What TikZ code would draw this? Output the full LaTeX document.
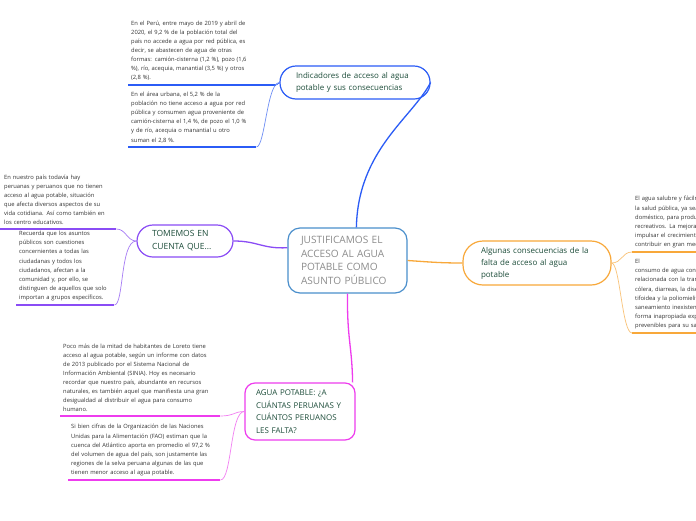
\documentclass[tikz,border=0pt]{standalone}
\usepackage{fontspec}
\setmainfont{Open Sans}
\definecolor{azul}{HTML}{2B5CF6}
\definecolor{azulclaro}{HTML}{6F8FF5}
\definecolor{morado}{HTML}{8A4CF5}
\definecolor{moradoclaro}{HTML}{A77CF5}
\definecolor{magenta}{HTML}{EE3CEE}
\definecolor{magentaclaro}{HTML}{F27FF2}
\definecolor{naranja}{HTML}{F8A83A}
\definecolor{naranjaclaro}{HTML}{F9C277}
\definecolor{celeste}{HTML}{4B8FCC}
\definecolor{verdeosc}{HTML}{1D4D3A}
\definecolor{grisosc}{HTML}{333333}
\definecolor{grismed}{HTML}{8C8C8C}
\tikzset{
  txt/.style={anchor=south west, align=left, inner xsep=3pt, inner ysep=4pt,
    font=\fontsize{5.8}{9.1}\selectfont, text=grisosc},
  topic/.style={draw, line width=1.2pt, fill=white, align=left,
    font=\fontsize{7.95}{12.6}\selectfont, text=verdeosc},
  uline/.style={line width=2pt},
  twig/.style={line width=0.7pt},
  branch/.style={line width=1.3pt},
}
\begin{document}
\begin{tikzpicture}[x=1pt, y=-1pt]
    % fondo
    \fill[white] (0,0) rectangle (696,520);
    \clip (0,0) rectangle (696,520);

    % nodo central
    \node[draw=celeste, line width=1.2pt, rounded corners=12pt, fill=white, align=left,
      text width=93pt, inner xsep=13pt, minimum height=65pt, text=grismed,
      font=\fontsize{10.1}{13.7}\selectfont] (hub) at (347.5,260.5)
      {JUSTIFICAMOS EL\\ACCESO AL AGUA\\POTABLE COMO\\ASUNTO PÚBLICO};

    % temas principales
    \node[topic, draw=azul, rounded corners=16pt, text width=118pt, inner xsep=16pt,
      minimum height=33pt] (ind) at (355,82.5)
      {Indicadores de acceso al agua\\potable y sus consecuencias};
    \node[topic, draw=morado, rounded corners=16pt, text width=66pt, inner xsep=15pt,
      minimum height=32pt, font=\fontsize{8.5}{13}\selectfont] (tom) at (185,241)
      {TOMEMOS EN\\CUENTA QUE...};
    \node[topic, draw=magenta, rounded corners=10pt, text width=88pt, inner xsep=11pt,
      minimum height=57pt] (agua) at (300,411.5)
      {AGUA POTABLE: ¿A\\CUÁNTAS PERUANAS Y\\CUÁNTOS PERUANOS\\LES FALTA?};
    \node[topic, draw=naranja, rounded corners=20pt, text width=112pt, inner xsep=18pt,
      minimum height=44pt, font=\fontsize{8}{12}\selectfont] (cons) at (537,263)
      {Algunas consecuencias de la\\falta de acceso al agua\\potable};

    % ramas desde el centro
    \draw[branch, azul] (hub.75) .. controls (358,150) and (412,118) .. (ind.east);
    \draw[branch, morado] (hub.168) .. controls (262,249) and (258,241) .. (tom.east);
    \draw[branch, magenta] (hub.south) .. controls (347,340) and (352,345) .. ([xshift=-3pt]agua.north east);
    \draw[branch, naranja] (hub.east) .. controls (430,262) and (440,263) .. (cons.west);

    % textos: indicadores
    \node[txt, text width=142pt] (t1) at (128,85)
      {En el Perú, entre mayo de 2019 y abril de\\2020, el 9,2 \% de la población total del\\país no accede a agua por red pública, es\\decir, se abastecen de agua de otras\\formas: camión-cisterna (1,2 \%), pozo (1,6\\\%), río, acequia, manantial (3,5 \%) y otros\\(2,8 \%).};
    \node[txt, text width=122pt] (t2) at (128,147)
      {En el área urbana, el 5,2 \% de la\\población no tiene acceso a agua por red\\pública y consumen agua proveniente de\\camión-cisterna el 1,4 \%, de pozo el 1,0 \%\\y de río, acequia o manantial u otro\\suman el 2,8 \%.};
    \draw[uline, azul] (t1.south west) -- (t1.south east);
    \draw[uline, azul] (t2.south west) -- (t2.south east);
    \draw[twig, azul] (t1.south east) .. controls (278,85) and (278,82.5) .. (ind.west);
    \draw[twig, azulclaro] (t2.south east) .. controls (265,147) and (267,82.5) .. (ind.west);

    % textos: tomemos en cuenta
    \node[txt, text width=108pt, inner xsep=4pt] (l1) at (0,229)
      {En nuestro país todavía hay\\peruanas y peruanos que no tienen\\acceso al agua potable, situación\\que afecta diversos aspectos de su\\vida cotidiana. Así como también en\\los centro educativos.};
    \node[txt, text width=92pt] (l2) at (16,305)
      {Recuerda que los asuntos\\públicos son cuestiones\\concernientes a todas las\\ciudadanas y todos los\\ciudadanos, afectan a la\\comunidad y, por ello, se\\distinguen de aquellos que solo\\importan a grupos específicos.};
    \draw[uline, morado] (l1.south west) -- (l1.south east);
    \draw[uline, morado] (l2.south west) -- (l2.south east);
    \draw[twig, moradoclaro] (l1.south east) .. controls (126,229) and (127,241) .. (tom.west);
    \draw[twig, moradoclaro] (l2.south east) .. controls (124,305) and (120,241) .. (tom.west);

    % textos: agua potable
    \node[txt, text width=154pt] (b1) at (60,416)
      {Poco más de la mitad de habitantes de Loreto tiene\\acceso al agua potable, según un informe con datos\\de 2013 publicado por el Sistema Nacional de\\Información Ambiental (SINIA). Hoy es necesario\\recordar que nuestro país, abundante en recursos\\naturales, es también aquel que manifiesta una gran\\desigualdad al distribuir el agua para consumo\\humano.};
    \node[txt, text width=146pt] (b2) at (68,480)
      {Si bien cifras de la Organización de las Naciones\\Unidas para la Alimentación (FAO) estiman que la\\cuenca del Atlántico aporta en promedio el 97,2 \%\\del volumen de agua del país, son justamente las\\regiones de la selva peruana algunas de las que\\tienen menor acceso al agua potable.};
    \draw[uline, magenta] (b1.south west) -- (b1.south east);
    \draw[uline, magenta] (b2.south west) -- (b2.south east);
    \draw[twig, magentaclaro] (b1.south east) .. controls (234,416) and (234,411.5) .. (agua.west);
    \draw[twig, magentaclaro] (b2.south east) .. controls (232,480) and (230,411.5) .. (agua.west);

    % textos: consecuencias
    \node[txt, text width=200pt] (r1) at (632,252)
      {El agua salubre y fácilmente accesible es importante para\\la salud pública, ya sea que se utilice para beber, para uso\\doméstico, para producir alimentos o para fines\\recreativos. La mejora del abastecimiento de agua puede\\impulsar el crecimiento económico de los países y\\contribuir en gran medida a la reducción de la pobreza.};
    \node[txt, text width=200pt] (r2) at (632,333)
      {El\\ consumo de agua contaminada está\\relacionada con la transmisión de enfermedades como la\\cólera, diarreas, la disentería, la hepatitis A, la fiebre\\tifoidea y la poliomielitis. Los servicios de agua y\\saneamiento inexistentes, insuficientes o gestionados de\\forma inapropiada exponen a la población a riesgos\\prevenibles para su salud.};
    \draw[uline, naranja] (r1.south west) -- (r1.south east);
    \draw[uline, naranja] (r2.south west) -- (r2.south east);
    \draw[twig, naranjaclaro] (cons.east) .. controls (622,263) and (622,252) .. (r1.south west);
    \draw[twig, naranjaclaro] (cons.east) .. controls (620,263) and (622,333) .. (r2.south west);
\end{tikzpicture}
\end{document}
